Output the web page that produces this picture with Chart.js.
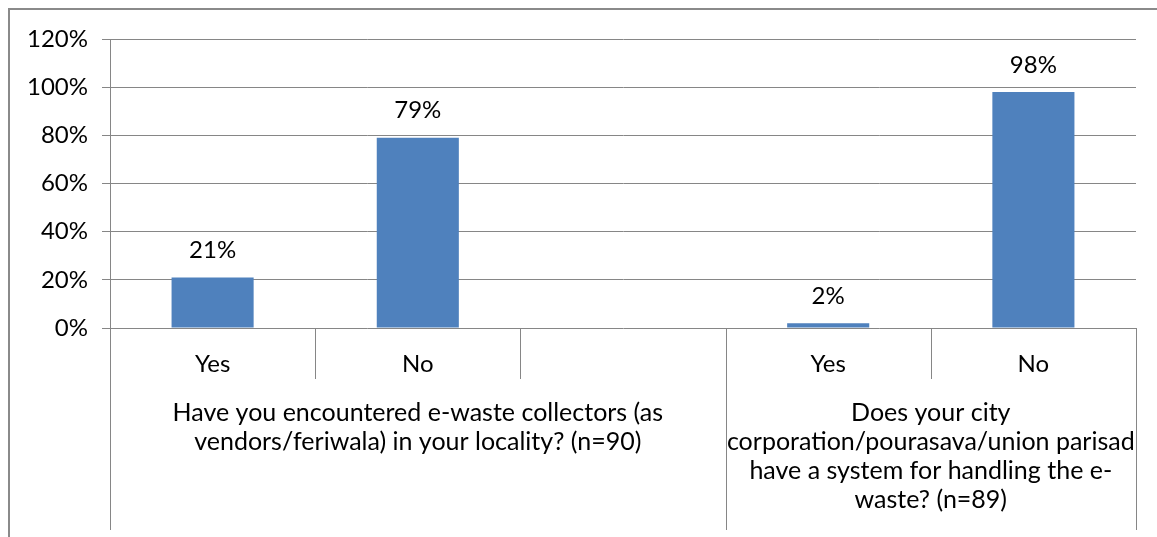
<!DOCTYPE html>
<html>
<head>
<meta charset="utf-8">
<script src="https://cdn.jsdelivr.net/npm/chart.js@4"></script>
<style>
  html, body { margin: 0; padding: 0; background: #fff; overflow: hidden; }
  #wrap { position: relative; width: 1157px; height: 537px; }
  #frame { position: absolute; left: 8px; top: 8px; width: 1200px; height: 600px; border: 2px solid #8a8a8a; }
  canvas { position: absolute; left: 0; top: 0; }
</style>
</head>
<body>
<div id="wrap">
  <div id="frame"></div>
  <canvas id="chart" width="1157" height="537"></canvas>
</div>
<script>
var categories = ["Yes", "No", "", "Yes", "No"];
var percentValues = [21, 79, null, 2, 98];
var yTickValues = [0, 20, 40, 60, 80, 100, 120];
var groupLabels = [
    ["Have you encountered e-waste collectors (as", "vendors/feriwala) in your locality? (n=90)"],
    ["Does your city", "corporation/pourasava/union parisad", "have a system for handling the e-", "waste? (n=89)"]
];
var groupSpans = [[0, 2], [3, 4]];

var FONT = "Lato";
Chart.defaults.font.family = FONT;
Chart.defaults.font.size = 24;
Chart.defaults.color = "#000";

var lineColor = "#868686";

// labels on bars + group dividers and group text under the axis
var extras = {
    id: "extras",
    afterDatasetsDraw: function (chart) {
        var ctx = chart.ctx;
        var meta = chart.getDatasetMeta(0);
        ctx.save();
        ctx.font = "24px " + FONT;
        ctx.fillStyle = "#000";
        ctx.textAlign = "center";
        ctx.textBaseline = "middle";
        meta.data.forEach(function (bar, i) {
            if (percentValues[i] == null) return;
            ctx.fillText(percentValues[i] + "%", bar.x, bar.y - 27);
        });
        ctx.restore();
    },
    afterDraw: function (chart) {
        var ctx = chart.ctx;
        var x = chart.scales.x;
        var area = chart.chartArea;
        var half = (x.getPixelForValue(1) - x.getPixelForValue(0)) / 2;
        var longBottom = area.bottom + 202;
        var shortBottom = area.bottom + 51;
        ctx.save();
        ctx.strokeStyle = lineColor;
        ctx.lineWidth = 1;
        ctx.beginPath();
        for (var i = 0; i <= categories.length; i++) {
            var px = Math.round(x.getPixelForValue(i) - half) + 0.5;
            var isEdge = groupSpans.some(function (g) { return g[0] === i || g[1] + 1 === i; });
            ctx.moveTo(px, area.bottom);
            ctx.lineTo(px, isEdge ? longBottom : shortBottom);
        }
        ctx.stroke();

        ctx.font = "25px " + FONT;
        ctx.fillStyle = "#000";
        ctx.textAlign = "center";
        ctx.textBaseline = "middle";
        groupSpans.forEach(function (g, gi) {
            var cx = (x.getPixelForValue(g[0]) + x.getPixelForValue(g[1])) / 2;
            groupLabels[gi].forEach(function (line, li) {
                ctx.fillText(line, cx, area.bottom + 85 + li * 29);
            });
        });
        ctx.restore();
    }
};

new Chart(document.getElementById("chart"), {
    type: "bar",
    data: {
        labels: categories,
        datasets: [{
            data: percentValues,
            backgroundColor: "#4f81bd",
            borderWidth: 0,
            barPercentage: 0.8,
            categoryPercentage: 0.5
        }]
    },
    options: {
        responsive: false,
        animation: false,
        layout: { padding: { top: 39, right: 21, left: 0, bottom: 0 } },
        plugins: {
            legend: { display: false },
            tooltip: { enabled: false }
        },
        scales: {
            x: {
                grid: { display: false, drawTicks: false },
                border: { display: false },
                ticks: { padding: 22, font: { size: 24 }, color: "#000" },
                afterFit: function (s) { s.height = 209; }
            },
            y: {
                min: 0,
                max: 120,
                afterBuildTicks: function (s) {
                    s.ticks = yTickValues.map(function (v) { return { value: v }; });
                },
                grid: { color: lineColor, tickLength: 8 },
                border: { color: lineColor },
                ticks: {
                    padding: 14,
                    font: { size: 24 },
                    color: "#000",
                    callback: function (v) { return v + "%"; }
                },
                afterFit: function (s) { s.width = 110; }
            }
        }
    },
    plugins: [extras]
});
</script>
</body>
</html>
